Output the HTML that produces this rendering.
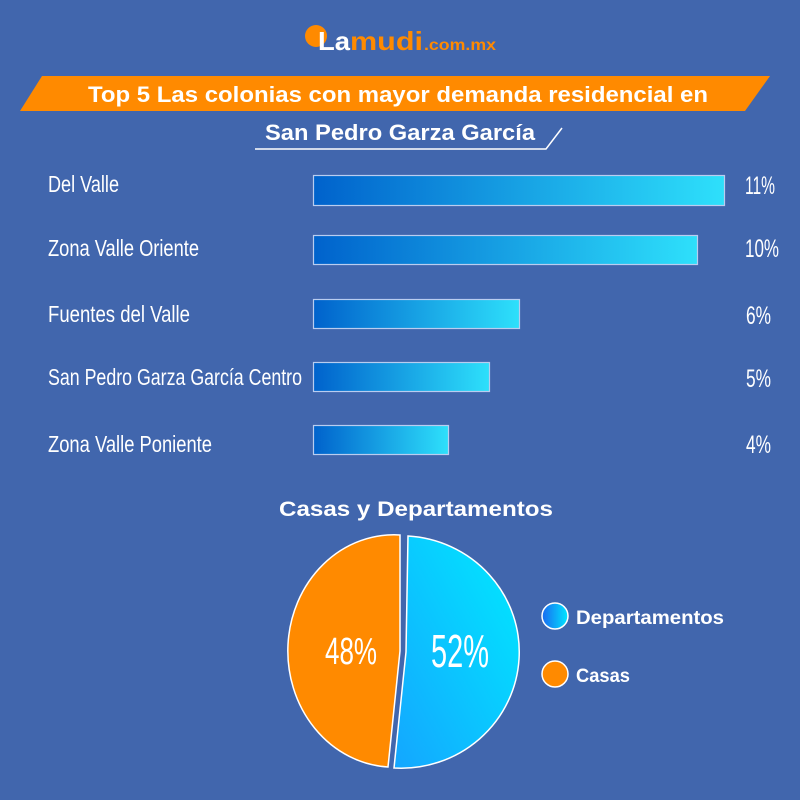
<!DOCTYPE html>
<html><head><meta charset="utf-8"><style>
body{margin:0;width:800px;height:800px;background:#4166ad;overflow:hidden;font-family:"Liberation Sans",sans-serif;}
svg{position:absolute;left:0;top:0}
</style></head><body>
<svg width="800" height="800" viewBox="0 0 800 800">
<defs>
<linearGradient id="bar" x1="0" x2="1" y1="0" y2="0"><stop offset="0" stop-color="#0062cc"/><stop offset="1" stop-color="#2ee0fb"/></linearGradient>
<linearGradient id="pie" x1="0" x2="1" y1="1" y2="0"><stop offset="0" stop-color="#14a6ff"/><stop offset="1" stop-color="#00eaff"/></linearGradient>
<linearGradient id="leg" x1="0" x2="1"><stop offset="0" stop-color="#1a6af0"/><stop offset="1" stop-color="#00e6ff"/></linearGradient>
</defs>
<!-- logo -->
<circle cx="316" cy="36" r="11" fill="#ff8a00"/>
<text x="318" y="50" font-size="26" font-weight="bold" fill="#fff" textLength="32" lengthAdjust="spacingAndGlyphs">La</text>
<text x="350" y="50" font-size="26" font-weight="bold" fill="#ff8a00" textLength="73" lengthAdjust="spacingAndGlyphs">mudi</text>
<text x="424" y="50" font-size="16" font-weight="bold" fill="#ff8a00" textLength="72" lengthAdjust="spacingAndGlyphs">.com.mx</text>
<!-- banner -->
<polygon points="42,76 770,76 745,111 20,111" fill="#ff8a00"/>
<text x="398" y="102" font-size="22" font-weight="bold" fill="#fff" text-anchor="middle" textLength="620" lengthAdjust="spacingAndGlyphs">Top 5 Las colonias con mayor demanda residencial en</text>
<text x="400" y="140" font-size="22" font-weight="bold" fill="#fff" text-anchor="middle" textLength="270" lengthAdjust="spacingAndGlyphs">San Pedro Garza García</text>
<polyline points="255,149 546,149 562,128" fill="none" stroke="#fff" stroke-width="1.5"/>
<!-- bars -->
<g fill="#fff" font-size="23">
<text x="48" y="192" textLength="71" lengthAdjust="spacingAndGlyphs">Del Valle</text>
<text x="48" y="256" textLength="151" lengthAdjust="spacingAndGlyphs">Zona Valle Oriente</text>
<text x="48" y="322" textLength="142" lengthAdjust="spacingAndGlyphs">Fuentes del Valle</text>
<text x="48" y="385" textLength="254" lengthAdjust="spacingAndGlyphs">San Pedro Garza García Centro</text>
<text x="48" y="452" textLength="164" lengthAdjust="spacingAndGlyphs">Zona Valle Poniente</text>
</g>
<g fill="#fff" font-size="25">
<text x="745" y="194" textLength="30" lengthAdjust="spacingAndGlyphs">11%</text>
<text x="745" y="257" textLength="34" lengthAdjust="spacingAndGlyphs">10%</text>
<text x="746" y="324" textLength="25" lengthAdjust="spacingAndGlyphs">6%</text>
<text x="746" y="387" textLength="25" lengthAdjust="spacingAndGlyphs">5%</text>
<text x="746" y="453" textLength="25" lengthAdjust="spacingAndGlyphs">4%</text>
</g>
<g fill="url(#bar)" stroke="#b9cdf0" stroke-width="1.2">
<rect x="313.5" y="175.5" width="411" height="30"/>
<rect x="313.5" y="235.5" width="384" height="29"/>
<rect x="313.5" y="299.5" width="206" height="29"/>
<rect x="313.5" y="362.5" width="176" height="29"/>
<rect x="313.5" y="425.5" width="135" height="29"/>
</g>
<!-- pie -->
<text x="416" y="516" font-size="21" font-weight="bold" fill="#fff" text-anchor="middle" textLength="274" lengthAdjust="spacingAndGlyphs">Casas y Departamentos</text>
<path d="M406,652 L408,536 A118,116 0 1 1 394,768 Z" fill="url(#pie)" stroke="#fff" stroke-width="1.5"/>
<path d="M400,651 L388,767 A106,116 0 0 1 400,535 Z" fill="#ff8a00" stroke="#fff" stroke-width="1.5"/>
<text x="351" y="664" font-size="38" fill="#fff" text-anchor="middle" textLength="52" lengthAdjust="spacingAndGlyphs">48%</text>
<text x="460" y="667" font-size="46" fill="#fff" text-anchor="middle" textLength="58" lengthAdjust="spacingAndGlyphs">52%</text>
<circle cx="555" cy="616" r="13" fill="url(#leg)" stroke="#fff" stroke-width="1.5"/>
<circle cx="555" cy="674" r="13" fill="#ff8a00" stroke="#fff" stroke-width="1.5"/>
<text x="576" y="624" font-size="19" font-weight="bold" fill="#fff" textLength="148" lengthAdjust="spacingAndGlyphs">Departamentos</text>
<text x="576" y="682" font-size="19" font-weight="bold" fill="#fff" textLength="54" lengthAdjust="spacingAndGlyphs">Casas</text>
</svg>
</body></html>
